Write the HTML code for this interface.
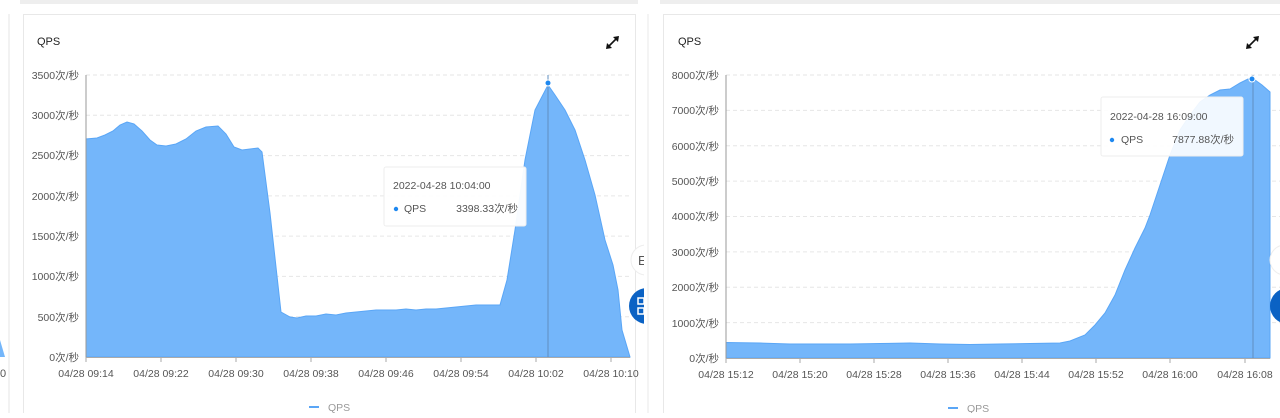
<!DOCTYPE html>
<html><head><meta charset="utf-8"><style>
body{margin:0;background:#fff;width:1280px;height:413px;overflow:hidden;font-family:"Liberation Sans","Noto Sans CJK SC",sans-serif}
svg text{font-family:"Liberation Sans","Noto Sans CJK SC",sans-serif}
</style></head><body>
<svg width="1280" height="413" viewBox="0 0 1280 413" xmlns="http://www.w3.org/2000/svg">
<defs><clipPath id="cl"><rect x="0" y="0" width="644" height="413"/></clipPath></defs>
<rect x="0" y="0" width="1280" height="413" fill="#fff"/>
<rect x="20" y="0" width="618" height="4" fill="#eee"/>
<rect x="660" y="0" width="620" height="4" fill="#eee"/>
<line x1="9" y1="14" x2="9" y2="413" stroke="#e6e6e6"/>
<polygon points="0,340 5,357 0,357" fill="#74b6fa"/>
<text x="0" y="377" font-size="11" fill="#555">0</text>
<rect x="23.5" y="14.5" width="612" height="410" fill="#fff" stroke="#e8e8e8"/>
<line x1="648" y1="14" x2="648" y2="413" stroke="#e8e8e8"/>
<rect x="663.5" y="14.5" width="630" height="410" fill="#fff" stroke="#e8e8e8"/>

<text x="37" y="45" font-size="11" fill="#222">QPS</text>
<g stroke="#111" stroke-width="1.6" fill="none"><line x1="608" y1="47" x2="617" y2="38"/></g>
<polygon points="619,36 613,37 618,42" fill="#111"/><polygon points="606,49 607,43 612,48" fill="#111"/>
<g stroke="#e6e6e6" stroke-dasharray="4,3">
<line x1="86" y1="75" x2="632" y2="75"/><line x1="86" y1="115.3" x2="632" y2="115.3"/><line x1="86" y1="155.6" x2="632" y2="155.6"/><line x1="86" y1="195.9" x2="632" y2="195.9"/><line x1="86" y1="236.1" x2="632" y2="236.1"/><line x1="86" y1="276.4" x2="632" y2="276.4"/><line x1="86" y1="316.7" x2="632" y2="316.7"/>
</g>
<g font-size="10.5" fill="#555" text-anchor="end">
<text x="79" y="79">3500次/秒</text><text x="79" y="119">3000次/秒</text><text x="79" y="159">2500次/秒</text><text x="79" y="200">2000次/秒</text><text x="79" y="240">1500次/秒</text><text x="79" y="280">1000次/秒</text><text x="79" y="321">500次/秒</text><text x="79" y="361">0次/秒</text>
</g>
<path d="M86,357 L86,139 L97,138 L105,135 L113,131 L120,125 L127,122 L134,124 L142,131 L150,140 L157,145 L166,146 L176,144 L186,139 L196,131 L206,127 L218,126 L226,134 L234,147 L242,150 L258,148 L262,152 L270,213 L281,312 L290,317 L297,318 L306,316 L316,316 L326,314 L336,315 L346,313 L356,312 L366,311 L376,310 L386,310 L396,310 L406,309 L416,310 L426,309 L436,309 L446,308 L456,307 L466,306 L476,305 L486,305 L500,305 L507,280 L515,230 L525,160 L535,110 L548,85 L555,95 L565,110 L575,130 L585,160 L595,195 L605,240 L613,265 L618,290 L622,330 L630,357 Z" fill="#74b6fa" stroke="#5aa6f6" stroke-width="1"/>
<line x1="86" y1="75" x2="86" y2="357" stroke="#999"/>
<line x1="86" y1="357.5" x2="630" y2="357.5" stroke="#aaa"/>
<line x1="548" y1="75" x2="548" y2="357" stroke="#5f8fc0" stroke-width="1"/>
<circle cx="548" cy="83" r="3" fill="#1e88f0" stroke="#fff"/>
<g stroke="#aaa"><line x1="86" y1="357" x2="86" y2="362"/><line x1="161" y1="357" x2="161" y2="362"/><line x1="236" y1="357" x2="236" y2="362"/><line x1="311" y1="357" x2="311" y2="362"/><line x1="386" y1="357" x2="386" y2="362"/><line x1="461" y1="357" x2="461" y2="362"/><line x1="536" y1="357" x2="536" y2="362"/><line x1="611" y1="357" x2="611" y2="362"/></g>
<g font-size="10.5" fill="#555" text-anchor="middle">
<text x="86" y="377">04/28 09:14</text><text x="161" y="377">04/28 09:22</text><text x="236" y="377">04/28 09:30</text><text x="311" y="377">04/28 09:38</text><text x="386" y="377">04/28 09:46</text><text x="461" y="377">04/28 09:54</text><text x="536" y="377">04/28 10:02</text><text x="611" y="377">04/28 10:10</text>
</g>
<line x1="309" y1="407" x2="319" y2="407" stroke="#5aa6f6" stroke-width="2"/>
<text x="328" y="411" font-size="10.5" fill="#999">QPS</text>
<rect x="384" y="167" width="142" height="59" fill="#fff" fill-opacity="0.95" stroke="#eee" rx="2"/>
<text x="393" y="189" font-size="10.5" fill="#555">2022-04-28 10:04:00</text>
<circle cx="396" cy="209" r="2.2" fill="#1e88f0"/>
<text x="404" y="212" font-size="10.5" fill="#555">QPS</text>
<text x="518" y="212" font-size="10.5" fill="#555" text-anchor="end">3398.33次/秒</text>
<g clip-path="url(#cl)">
<circle cx="646" cy="260" r="15" fill="#fff" stroke="#eee"/>
<text x="638" y="265" font-size="13" fill="#555">E</text>
<circle cx="647" cy="306" r="18" fill="#0b62c4"/>
<rect x="638" y="298" width="6" height="6" fill="none" stroke="#fff" stroke-width="1.5"/><rect x="638" y="308" width="6" height="6" fill="none" stroke="#fff" stroke-width="1.5"/>
</g>

<text x="678" y="45" font-size="11" fill="#222">QPS</text>
<g stroke="#111" stroke-width="1.6" fill="none"><line x1="1248" y1="47" x2="1257" y2="38"/></g>
<polygon points="1259,36 1253,37 1258,42" fill="#111"/><polygon points="1246,49 1247,43 1252,48" fill="#111"/>
<g stroke="#e6e6e6" stroke-dasharray="4,3">
<line x1="726" y1="75" x2="1280" y2="75"/><line x1="726" y1="110.4" x2="1280" y2="110.4"/><line x1="726" y1="145.8" x2="1280" y2="145.8"/><line x1="726" y1="181.1" x2="1280" y2="181.1"/><line x1="726" y1="216.5" x2="1280" y2="216.5"/><line x1="726" y1="251.9" x2="1280" y2="251.9"/><line x1="726" y1="287.3" x2="1280" y2="287.3"/><line x1="726" y1="322.6" x2="1280" y2="322.6"/>
</g>
<g font-size="10.5" fill="#555" text-anchor="end">
<text x="719" y="79">8000次/秒</text><text x="719" y="114">7000次/秒</text><text x="719" y="150">6000次/秒</text><text x="719" y="185">5000次/秒</text><text x="719" y="220">4000次/秒</text><text x="719" y="256">3000次/秒</text><text x="719" y="291">2000次/秒</text><text x="719" y="327">1000次/秒</text><text x="719" y="362">0次/秒</text>
</g>
<path d="M726,358 L726,342.5 L760,343 L790,344 L820,344 L850,344 L880,343.5 L910,343 L940,344 L970,344.5 L1000,344 L1030,343.5 L1060,343 L1070,341 L1085,335 L1095,325 L1105,313 L1115,295 L1125,270 L1135,248 L1145,228 L1150,215 L1160,185 L1170,155 L1180,130 L1190,115 L1200,102 L1210,95 L1220,90 L1230,89 L1240,83 L1248,79 L1255,80 L1262,85 L1270,92 L1270,358 Z" fill="#74b6fa" stroke="#5aa6f6" stroke-width="1"/>
<line x1="726" y1="75" x2="726" y2="358" stroke="#999"/>
<line x1="726" y1="358.5" x2="1270" y2="358.5" stroke="#aaa"/>
<line x1="1253" y1="75" x2="1253" y2="358" stroke="#5f8fc0"/>
<circle cx="1252" cy="79" r="3" fill="#1e88f0" stroke="#fff"/>
<g stroke="#aaa"><line x1="726" y1="358" x2="726" y2="363"/><line x1="800" y1="358" x2="800" y2="363"/><line x1="874" y1="358" x2="874" y2="363"/><line x1="948" y1="358" x2="948" y2="363"/><line x1="1022" y1="358" x2="1022" y2="363"/><line x1="1096" y1="358" x2="1096" y2="363"/><line x1="1170" y1="358" x2="1170" y2="363"/><line x1="1245" y1="358" x2="1245" y2="363"/></g>
<g font-size="10.5" fill="#555" text-anchor="middle">
<text x="726" y="378">04/28 15:12</text><text x="800" y="378">04/28 15:20</text><text x="874" y="378">04/28 15:28</text><text x="948" y="378">04/28 15:36</text><text x="1022" y="378">04/28 15:44</text><text x="1096" y="378">04/28 15:52</text><text x="1170" y="378">04/28 16:00</text><text x="1245" y="378">04/28 16:08</text>
</g>
<line x1="948" y1="408" x2="958" y2="408" stroke="#5aa6f6" stroke-width="2"/>
<text x="967" y="412" font-size="10.5" fill="#999">QPS</text>
<rect x="1101" y="97" width="142" height="59" fill="#fff" fill-opacity="0.9" stroke="#eee" rx="2"/>
<text x="1110" y="120" font-size="10.5" fill="#555">2022-04-28 16:09:00</text>
<circle cx="1112" cy="140" r="2.2" fill="#1e88f0"/>
<text x="1121" y="143" font-size="10.5" fill="#555">QPS</text>
<text x="1234" y="143" font-size="10.5" fill="#555" text-anchor="end">7877.88次/秒</text>
<circle cx="1285" cy="260" r="15" fill="#fff" stroke="#eee"/>
<circle cx="1288" cy="306" r="18" fill="#0b62c4"/>
</svg>
</body></html>
